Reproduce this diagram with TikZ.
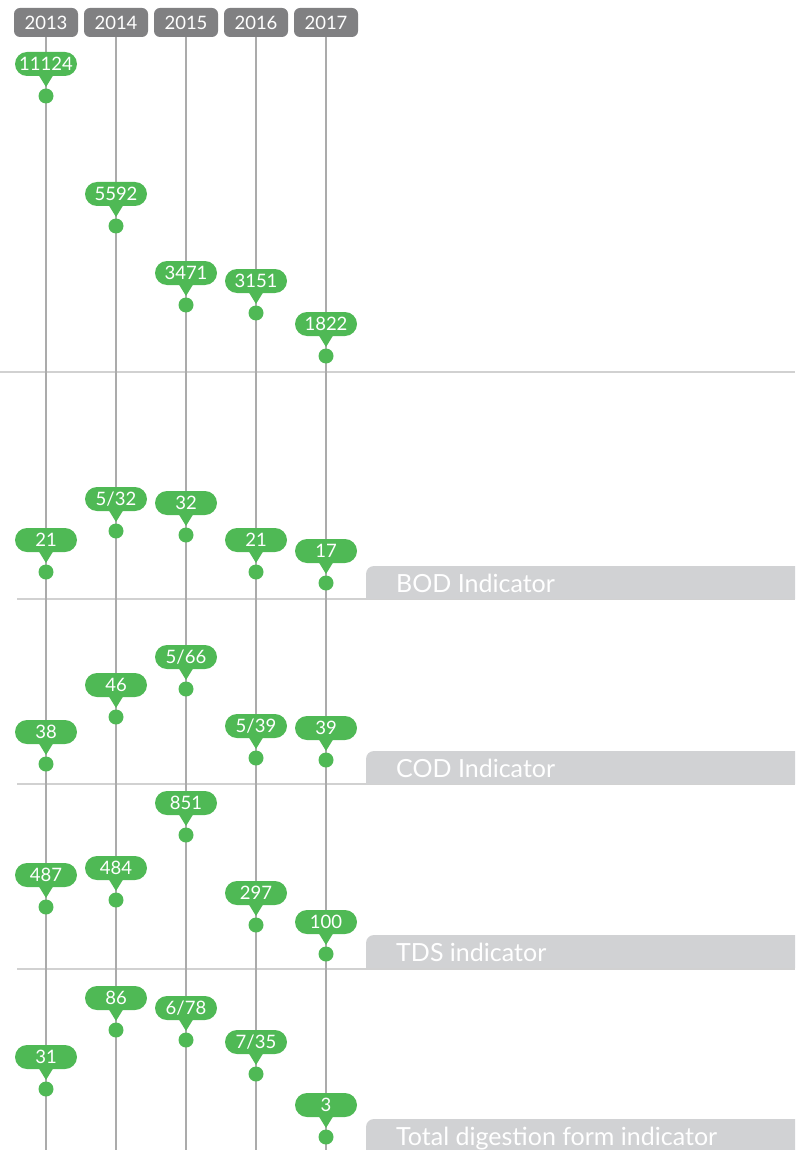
\documentclass[tikz,border=0pt]{standalone}
\usepackage{fontspec}
\setmainfont{Lato}
\usepackage{xcolor}
\usepackage{tikz}
\definecolor{verde}{RGB}{79,185,85}
\definecolor{gris}{RGB}{128,128,130}
\definecolor{banda}{RGB}{209,210,212}
\tikzset{
  anio/.style={fill=gris,text=white,rounded corners=6pt,minimum width=64pt,minimum height=29pt,inner sep=0pt,font=\fontsize{18.5}{18.5}\selectfont},
  eje/.style={draw=black!33,line width=2pt},
  sep/.style={draw=black!18,line width=2pt},
  pill/.style={fill=verde,text=white,rounded corners=12pt,minimum width=62pt,minimum height=24pt,inner sep=0pt,font=\fontsize{18.5}{18.5}\selectfont},
  pt/.style={circle,fill=verde,minimum size=15pt,inner sep=0pt},
  bandtxt/.style={text=white,inner sep=0pt,anchor=base west,font=\fontsize{25}{25}\selectfont}
}
% bubble: name, x, y of the dot, label
\newcommand{\bub}[4]{%
  \node[pill] (#1) at (#2,#3-32) {#4};
  \fill[verde] (#2-8,#3-22) -- (#2+8,#3-22) -- (#2,#3-9) -- cycle;
  \node[pt] (#1d) at (#2,#3) {};}
% grey band with its title: name, top, label
\newcommand{\banda}[3]{%
  \fill[banda] (795,#2+33) -- (366,#2+33) [rounded corners=8pt]-- (366,#2) [sharp corners]-- (795,#2) -- cycle;
  \node[bandtxt] (#1) at (396,#2+26) {#3};}

\begin{document}
\begin{tikzpicture}[x=1pt,y=-1pt]
\useasboundingbox (0,0) rectangle (795,1150);
\draw[sep] (0,372)--(795,372); \draw[sep] (17,599)--(795,599); \draw[sep] (17,784)--(795,784); \draw[sep] (17,969)--(795,969);
\foreach \yr/\x in {2013/46,2014/116,2015/186,2016/256,2017/326}{
  \node[anio] (yr\yr) at (\x,22.5) {\yr};
  \coordinate (end\yr) at (\x,1150);
  \draw[eje] (yr\yr.south) -- (end\yr);
}
% volume
\bub{v13}{46}{96}{11124} \bub{v14}{116}{226}{5592} \bub{v15}{186}{305}{3471} \bub{v16}{256}{313}{3151} \bub{v17}{326}{356}{1822}
% BOD
\banda{bod}{566}{BOD Indicator}
\bub{b13}{46}{572}{21} \bub{b14}{116}{531}{5/32} \bub{b15}{186}{535}{32} \bub{b16}{256}{572}{21} \bub{b17}{326}{583}{17}
% COD
\banda{cod}{751}{COD Indicator}
\bub{c13}{46}{764}{38} \bub{c14}{116}{717}{46} \bub{c15}{186}{689}{5/66} \bub{c16}{256}{758}{5/39} \bub{c17}{326}{760}{39}
% TDS
\banda{tds}{935}{TDS indicator}
\bub{t13}{46}{907}{487} \bub{t14}{116}{900}{484} \bub{t15}{186}{835}{851} \bub{t16}{256}{925}{297} \bub{t17}{326}{954}{100}
% total digestion
\banda{tot}{1119}{Total digestion form indicator}
\bub{d13}{46}{1089}{31} \bub{d14}{116}{1030}{86} \bub{d15}{186}{1040}{6/78} \bub{d16}{256}{1074}{7/35} \bub{d17}{326}{1137}{3}
\end{tikzpicture}
\end{document}
